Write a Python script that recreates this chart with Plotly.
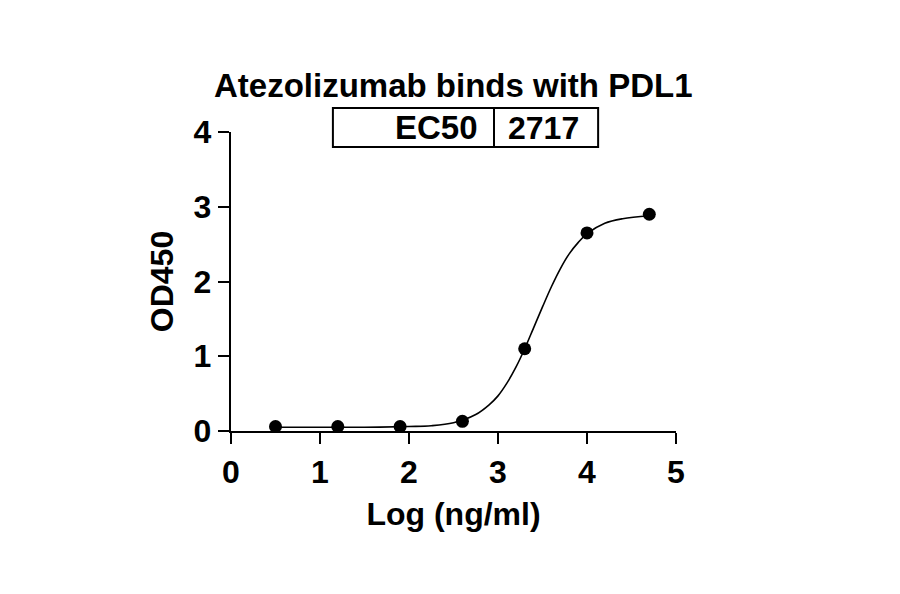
import plotly.graph_objects as go

# measured points
log_conc = [0.5, 1.2, 1.9, 2.6, 3.3, 4.0, 4.7]
od450 = [0.06, 0.06, 0.06, 0.13, 1.10, 2.65, 2.90]

# fitted curve
curve_x = [0.5, 1.0, 1.5, 2.0, 2.25, 2.5, 2.75, 2.9, 3.0, 3.1, 3.2, 3.3, 3.4,
           3.5, 3.6, 3.7, 3.8, 3.9, 4.0, 4.2, 4.4, 4.7]
curve_y = [0.05, 0.05, 0.05, 0.06, 0.07, 0.11, 0.22, 0.35, 0.47, 0.64, 0.85, 1.10,
           1.38, 1.66, 1.93, 2.17, 2.37, 2.52, 2.64, 2.78, 2.84, 2.88]

ec50_label = "EC50"
ec50_value = "2717"

font_family = "Arial, Liberation Sans, sans-serif"

fig = go.Figure()
fig.add_trace(go.Scatter(x=curve_x, y=curve_y, mode='lines',
                         line=dict(color='black', width=1.6, shape='spline'),
                         hoverinfo='skip'))
fig.add_trace(go.Scatter(x=log_conc, y=od450, mode='markers',
                         marker=dict(color='black', size=13)))

axis_common = dict(showline=True, linecolor='black', linewidth=2.4,
                   ticks='outside', ticklen=11, tickwidth=2.4, tickcolor='black',
                   showgrid=False, zeroline=False,
                   tickfont=dict(family=font_family, size=32, color='black'))

fig.update_layout(
    width=900, height=594,
    paper_bgcolor='white', plot_bgcolor='white',
    showlegend=False,
    # page draws the figure ~7px in from the corner, so margins are shifted
    margin=dict(l=223, r=232, t=124, b=171),
    font=dict(family=font_family, color='black'),
    xaxis=dict(range=[0, 5], dtick=1,
               title=dict(text='<b>Log (ng/ml)</b>', standoff=14,
                          font=dict(size=32)), **axis_common),
    yaxis=dict(range=[0, 4], dtick=1,
               title=dict(text='<b>OD450</b>', standoff=10,
                          font=dict(size=32)), **axis_common),
)
fig.update_xaxes(tickprefix='<b>', ticksuffix='</b>')
fig.update_yaxes(tickprefix='<b>', ticksuffix='</b>')

fig.add_annotation(text='<b>Atezolizumab binds with PDL1</b>', xref='paper', yref='paper',
                   x=0.499, y=1.154, showarrow=False, font=dict(size=33),
                   xanchor='center', yanchor='middle')

# EC50 table box
fig.add_shape(type='rect', xref='paper', yref='paper', x0=0.229, x1=0.825,
              y0=0.950, y1=1.080, line=dict(color='black', width=2))
fig.add_shape(type='line', xref='paper', yref='paper', x0=0.591, x1=0.591,
              y0=0.950, y1=1.080, line=dict(color='black', width=2))
fig.add_annotation(text='<b>' + ec50_label + '</b>', xref='paper', yref='paper',
                   x=0.559, y=1.015, showarrow=False, font=dict(size=33),
                   xanchor='right', yanchor='middle')
fig.add_annotation(text='<b>' + ec50_value + '</b>', xref='paper', yref='paper',
                   x=0.702, y=1.015, showarrow=False, font=dict(size=32),
                   xanchor='center', yanchor='middle')

fig.write_html("out.html")
